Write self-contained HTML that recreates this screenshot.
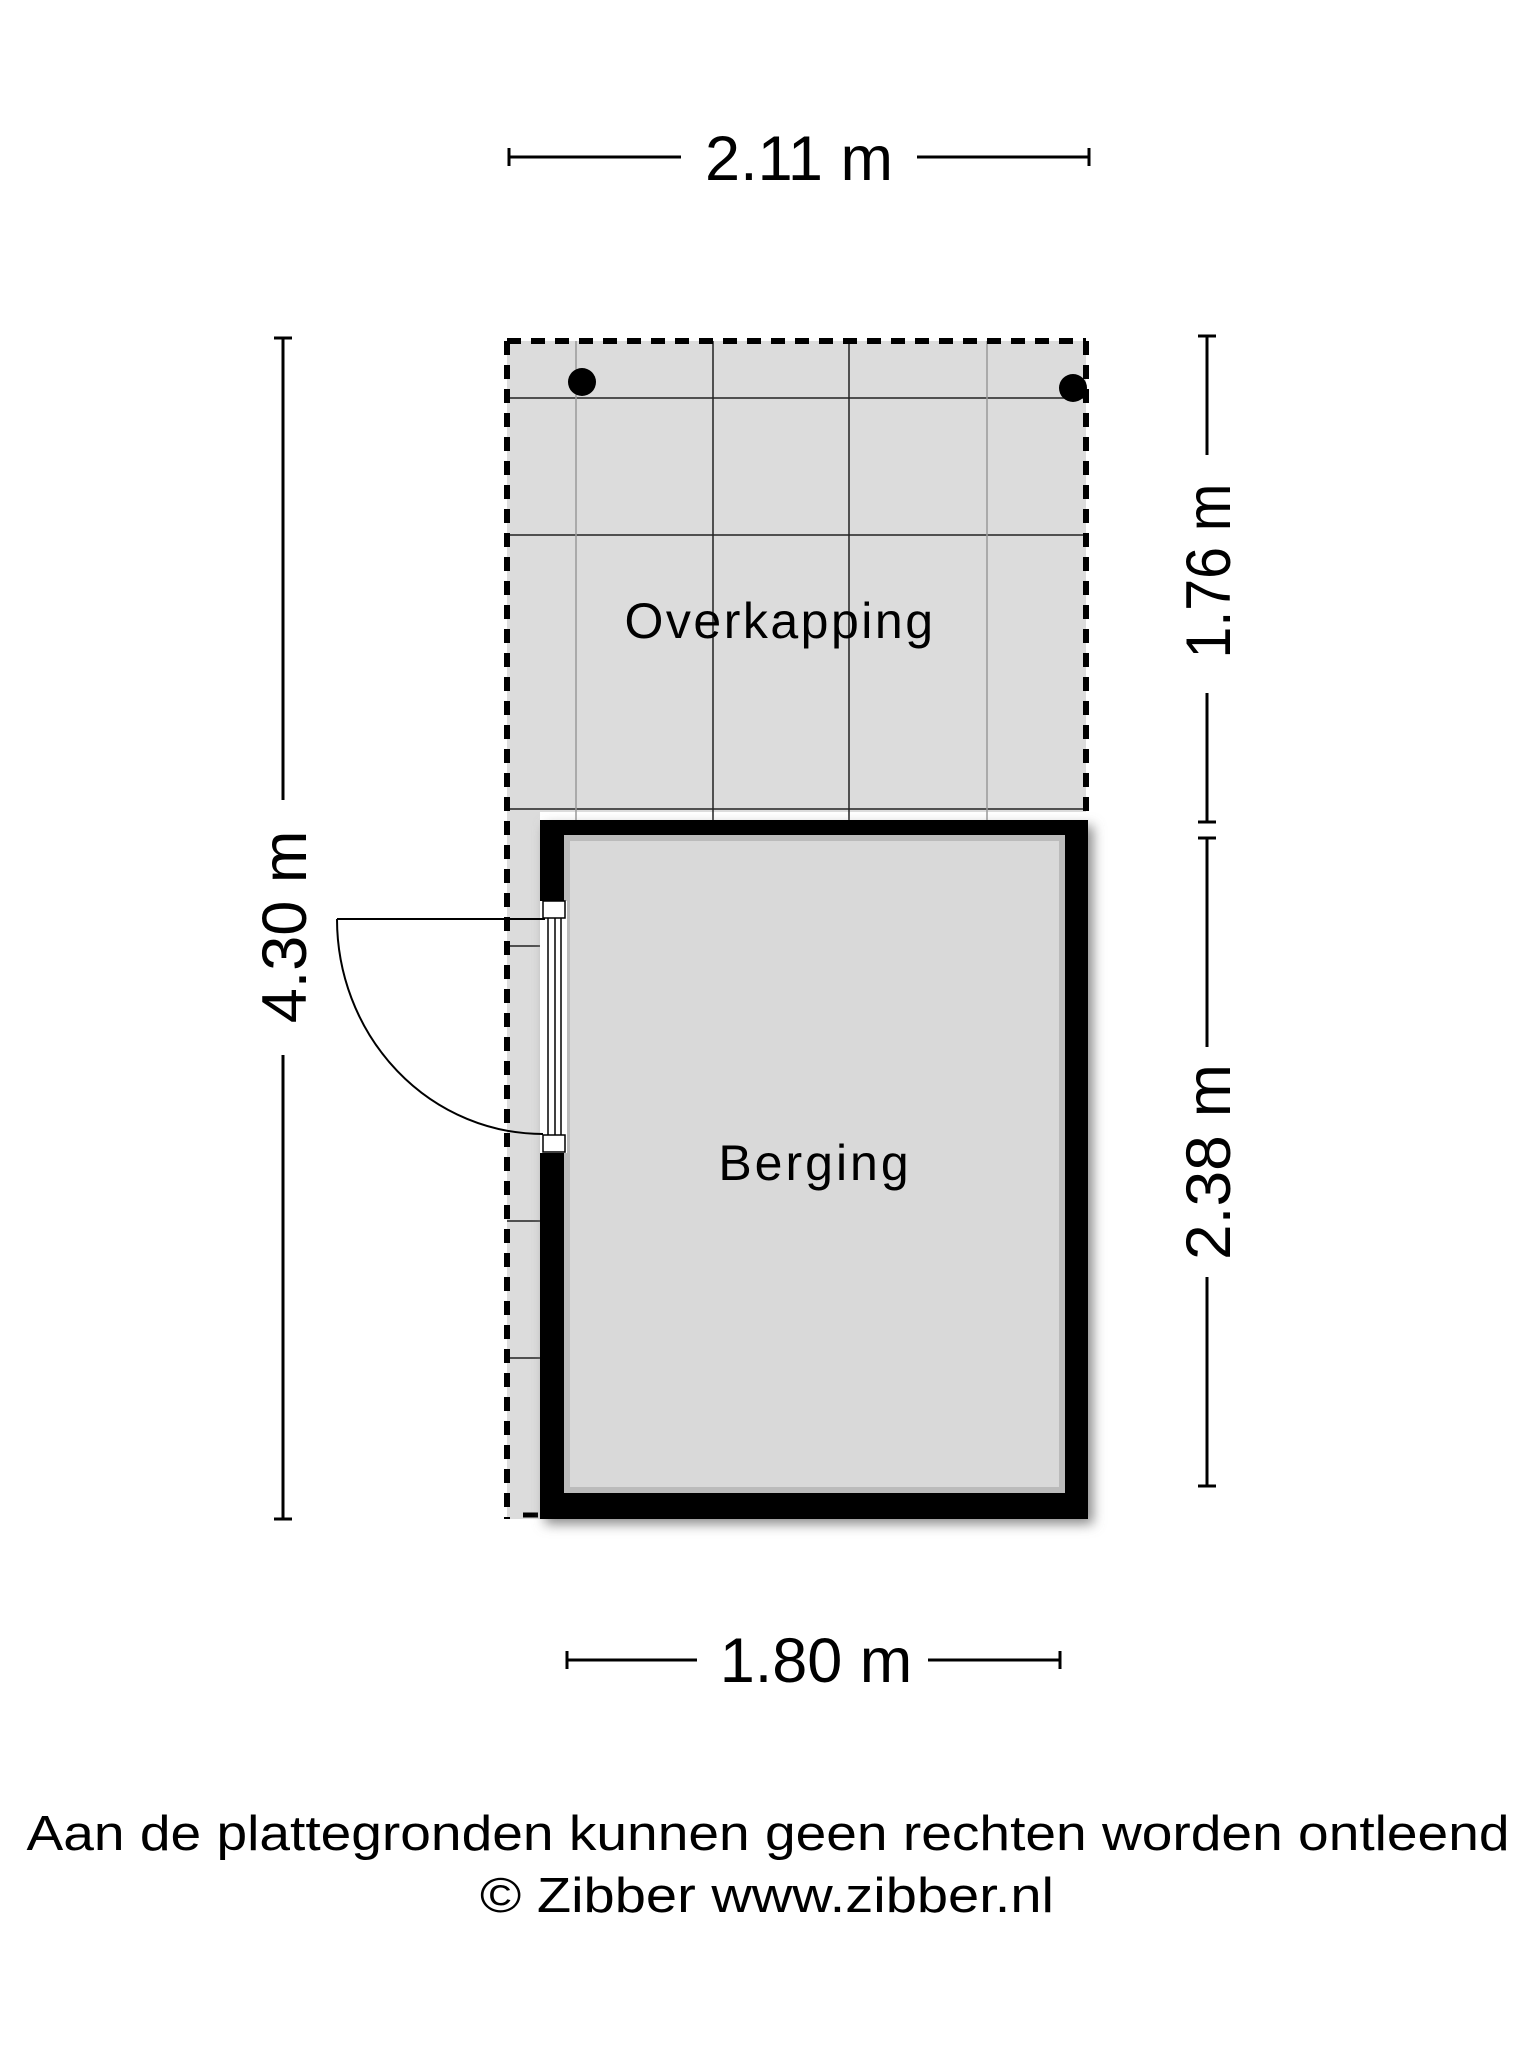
<!DOCTYPE html>
<html><head><meta charset="utf-8"><style>html,body{margin:0;padding:0;background:#fff}svg{display:block}</style></head>
<body>
<svg width="1536" height="2048" viewBox="0 0 1536 2048" xmlns="http://www.w3.org/2000/svg" font-family="Liberation Sans, sans-serif">
<defs>
<filter id="sh" x="-10%" y="-10%" width="120%" height="120%"><feGaussianBlur stdDeviation="6"/></filter>
</defs>
<rect x="507" y="341" width="579" height="1178" fill="#dcdcdc"/>
<rect x="540" y="812" width="546" height="707" fill="#fff"/>
<rect x="507" y="812" width="33" height="707" fill="#dcdcdc"/>
<g stroke="#222" stroke-width="1.5">
<line x1="507" y1="398" x2="1086" y2="398"/>
<line x1="507" y1="535" x2="1086" y2="535"/>
<line x1="507" y1="809" x2="1086" y2="809"/>
<line x1="576" y1="341" x2="576" y2="820" stroke="#999"/>
<line x1="713" y1="341" x2="713" y2="820"/>
<line x1="849" y1="341" x2="849" y2="820"/>
<line x1="987" y1="341" x2="987" y2="820" stroke="#999"/>
<line x1="507" y1="946" x2="540" y2="946"/>
<line x1="507" y1="1221" x2="540" y2="1221"/>
<line x1="507" y1="1358" x2="540" y2="1358"/>
</g>
<circle cx="582" cy="382" r="14" fill="#000"/>
<circle cx="1073" cy="388" r="14" fill="#000"/>
<g stroke="#000" stroke-width="6" fill="none" stroke-dasharray="14 10">
<line x1="507" y1="341" x2="1086" y2="341"/>
<line x1="1086" y1="341" x2="1086" y2="812"/>
<line x1="507" y1="341" x2="507" y2="1519"/>
</g>
<line x1="523" y1="1515" x2="538" y2="1515" stroke="#000" stroke-width="5"/>
<rect x="545" y="826" width="548" height="698" fill="#888" filter="url(#sh)"/>
<rect x="540" y="820" width="548" height="699" fill="#000"/>
<rect x="567" y="838" width="495" height="652" fill="#d9d9d9"/>
<rect x="567" y="838" width="495" height="652" fill="none" stroke="#bbb" stroke-width="6"/>
<rect x="540" y="901" width="27" height="252" fill="#fff"/>
<g stroke="#000" stroke-width="1.5" fill="none">
<rect x="543" y="901" width="22" height="17"/>
<rect x="543" y="1135" width="22" height="17"/>
<line x1="548" y1="918" x2="548" y2="1135"/>
<line x1="555" y1="918" x2="555" y2="1135"/>
<line x1="561" y1="918" x2="561" y2="1135"/>
<line x1="337" y1="919" x2="545" y2="919" stroke-width="2"/>
<path d="M337 919 A206 215 0 0 0 543 1134" stroke-width="2"/>
</g>
<text x="780" y="638" font-size="50" text-anchor="middle" letter-spacing="2.5">Overkapping</text>
<text x="815" y="1180" font-size="50" text-anchor="middle" letter-spacing="3">Berging</text>
<g stroke="#000" stroke-width="3">
<line x1="509" y1="157" x2="681" y2="157"/><line x1="917" y1="157" x2="1089" y2="157"/>
<line x1="509" y1="148" x2="509" y2="166"/><line x1="1089" y1="148" x2="1089" y2="166"/>
<line x1="567" y1="1660" x2="697" y2="1660"/><line x1="928" y1="1660" x2="1060" y2="1660"/>
<line x1="567" y1="1651" x2="567" y2="1669"/><line x1="1060" y1="1651" x2="1060" y2="1669"/>
<line x1="283" y1="338" x2="283" y2="800"/><line x1="283" y1="1055" x2="283" y2="1519"/>
<line x1="274" y1="338" x2="292" y2="338"/><line x1="274" y1="1519" x2="292" y2="1519"/>
<line x1="1207" y1="336" x2="1207" y2="455"/><line x1="1207" y1="693" x2="1207" y2="822"/>
<line x1="1198" y1="336" x2="1216" y2="336"/><line x1="1198" y1="822" x2="1216" y2="822"/>
<line x1="1207" y1="838" x2="1207" y2="1047"/><line x1="1207" y1="1277" x2="1207" y2="1486"/>
<line x1="1198" y1="838" x2="1216" y2="838"/><line x1="1198" y1="1486" x2="1216" y2="1486"/>
</g>
<text x="799" y="180" font-size="63" text-anchor="middle">2.11 m</text>
<text x="816" y="1682" font-size="63" text-anchor="middle">1.80 m</text>
<text transform="translate(306,927) rotate(-90)" font-size="63" text-anchor="middle">4.30 m</text>
<text transform="translate(1230,571) rotate(-90)" font-size="63" text-anchor="middle" textLength="175" lengthAdjust="spacingAndGlyphs">1.76 m</text>
<text transform="translate(1230,1162) rotate(-90)" font-size="63" text-anchor="middle" textLength="196" lengthAdjust="spacingAndGlyphs">2.38 m</text>
<text x="768" y="1850" font-size="49" text-anchor="middle" textLength="1483" lengthAdjust="spacingAndGlyphs">Aan de plattegronden kunnen geen rechten worden ontleend</text>
<text x="767" y="1912" font-size="49" text-anchor="middle" textLength="574" lengthAdjust="spacingAndGlyphs">© Zibber www.zibber.nl</text>
</svg>
</body></html>
